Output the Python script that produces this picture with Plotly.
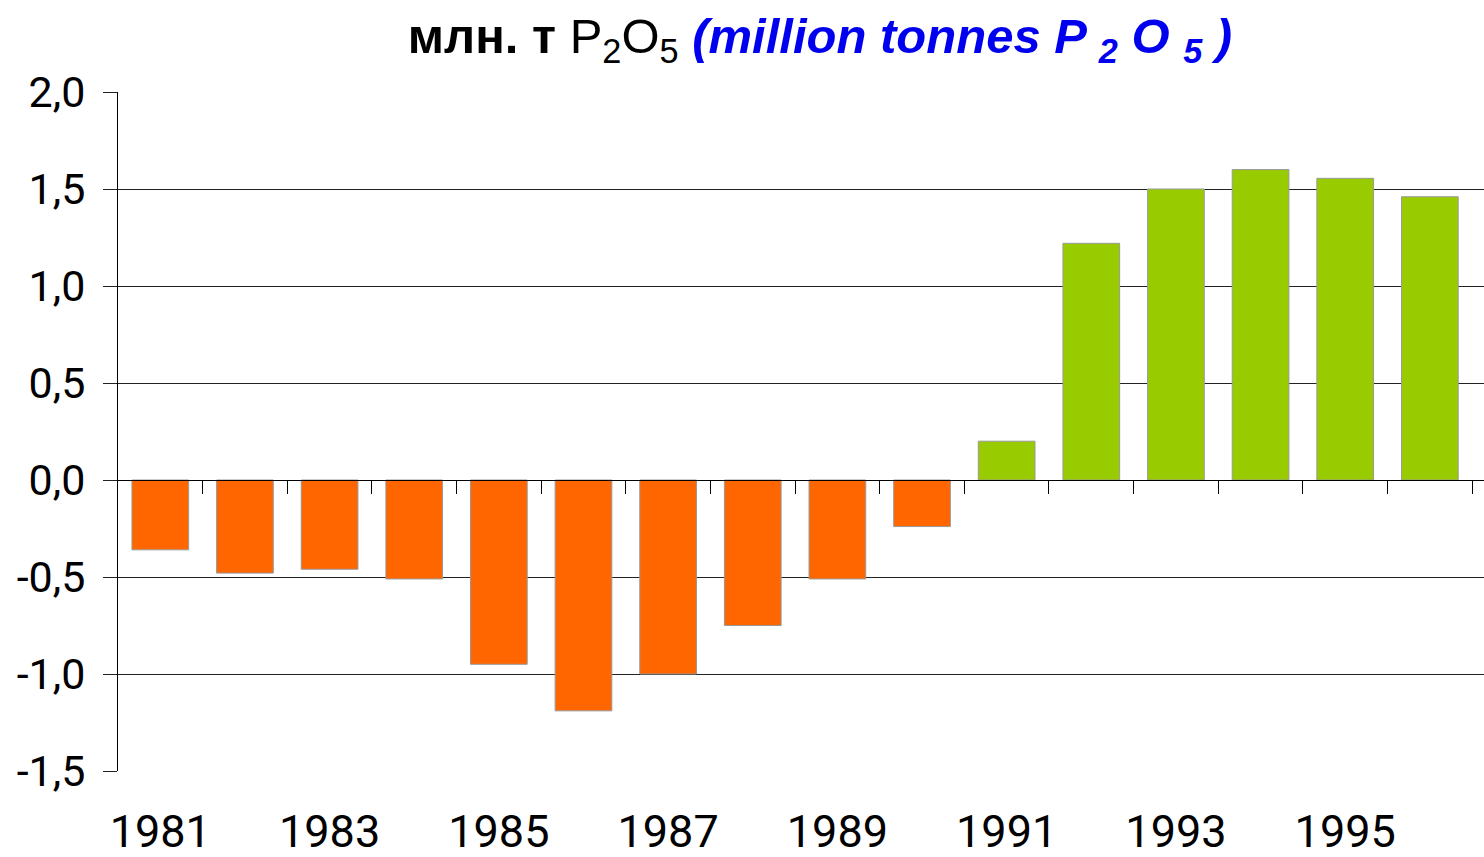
import plotly.graph_objects as go

years = [str(y) for y in range(1981, 1997)]
values = [-0.36, -0.48, -0.46, -0.51, -0.95, -1.19, -1.00, -0.75, -0.51, -0.24,
          0.20, 1.22, 1.50, 1.60, 1.555, 1.46]
label_idx = [i for i, y in enumerate(years) if int(y) % 2 == 1]
y_tickvals = [2.0, 1.5, 1.0, 0.5, 0.0, -0.5, -1.0, -1.5]
y_ticktext = ["2,0", "1,5", "1,0", "0,5", "0,0", "-0,5", "-1,0", "-1,5"]

ORANGE = "#FF6600"
GREEN = "#99CC00"
colors = [ORANGE if v < 0 else GREEN for v in values]

W, H = 1484, 857
ML, MR, MT, MB = 118, 0, 92, 86
Y0, Y1 = -1.5, 2.0
xr = [-0.5, len(years) - 0.5 + 0.14]

fig = go.Figure()
fig.add_trace(go.Bar(
    x=list(range(len(years))), y=values,
    marker=dict(color=colors, line=dict(color="#999999", width=1)),
    width=0.67, showlegend=False, hoverinfo="skip",
))

title = ("<b>млн. т</b> P<sub>2</sub>O<sub>5</sub> "
         "<span style='color:#0000EE'><b><i>(million tonnes P <sub>2</sub> O <sub>5</sub> )</i></b></span>")

fig.update_layout(
    width=W, height=H,
    margin=dict(l=ML, r=MR, t=MT, b=MB, autoexpand=False),
    paper_bgcolor="white", plot_bgcolor="white",
    font=dict(family="Roboto, Arial, sans-serif", color="black"),
    title=dict(text=title, x=820 / W, xanchor="center", xref="container",
               y=1 - 36 / H, yanchor="middle", automargin=False,
               font=dict(size=49, family="Arial, Liberation Sans", color="black")),
    xaxis=dict(
        range=xr, tickmode="array", tickvals=label_idx, ticktext=[years[i] for i in label_idx],
        showgrid=False, showline=False, zeroline=False, ticks="",
        tickfont=dict(size=45), ticklabelstandoff=30, automargin=False,
    ),
    yaxis=dict(
        range=[Y0, Y1], tickmode="array", tickvals=y_tickvals, ticktext=y_ticktext,
        showgrid=True, gridcolor="#222222", gridwidth=1,
        zeroline=False, showline=True, linecolor="black", linewidth=1,
        ticks="outside", ticklen=14, tickcolor="#222222",
        tickfont=dict(size=43), ticklabelstandoff=9, automargin=False,
    ),
    xaxis2=dict(
        overlaying="x", anchor="free", position=(0 - Y0) / (Y1 - Y0), side="bottom",
        range=xr, tickmode="array", tickvals=[i + 0.5 for i in range(len(years))],
        showticklabels=False, ticks="outside", ticklen=13, tickcolor="black", tickwidth=1,
        showline=True, linecolor="black", linewidth=1, showgrid=False, zeroline=False,
        automargin=False,
    ),
)
fig.add_trace(go.Scatter(x=[0], y=[0], xaxis="x2", mode="markers", marker=dict(opacity=0),
                         showlegend=False, hoverinfo="skip"))

fig.write_html("out.html", config={"displayModeBar": False},
               post_script="document.body.style.margin='0';document.body.style.overflow='hidden';")
